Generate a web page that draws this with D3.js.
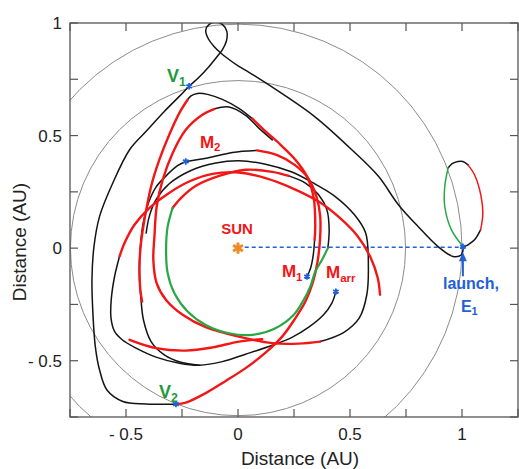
<!DOCTYPE html>
<html>
<head>
<meta charset="utf-8">
<script src="https://cdn.jsdelivr.net/npm/d3@7"></script>
<style>
  body { margin: 0; background: #fff; }
  svg { display: block; font-family: "Liberation Sans", Arial, sans-serif; }
</style>
</head>
<body>
<div id="chart"></div>
<script>
// axis ticks (AU)
const xLabels = [-0.5, 0, 0.5, 1];
const yLabels = [-0.5, 0, 0.5, 1];
const minorTicksX = [-0.75, -0.5, -0.25, 0, 0.25, 0.5, 0.75, 1, 1.25];
const minorTicksY = [-0.75, -0.5, -0.25, 0, 0.25, 0.5, 0.75, 1];
const orbitRadii = [1.0, 0.748];

// trajectory pieces, [x, y] in AU
const earthGreen = [[1.002,0.010],[0.953,0.081],[0.923,0.185],[0.923,0.274],[0.938,0.356]];
const earthTop = [[0.938,0.356],[0.956,0.375],[0.982,0.385],[1.004,0.385],[1.027,0.370]];
const earthRed = [[1.027,0.370],[1.056,0.326],[1.079,0.259],[1.093,0.156],[1.083,0.081]];
const outerBlack = [[1.083,0.081],[1.056,0.037],[1.027,0.015],[1.009,0.004],[0.997,-0.030],[0.960,-0.037],
  [0.893,0.007],[0.804,0.096],[0.716,0.193],[0.627,0.319],[0.508,0.437],[0.345,0.582],[0.197,0.686],
  [0.049,0.781],[0.004,0.807],[-0.055,0.849],[-0.077,0.867],[-0.107,0.896],[-0.132,0.929],[-0.144,0.967],
  [-0.129,0.994],[-0.099,1.003],[-0.070,0.994],[-0.050,0.963],[-0.052,0.919],[-0.070,0.881],[-0.092,0.852],
  [-0.129,0.807],[-0.173,0.760],[-0.218,0.719],[-0.262,0.674],[-0.329,0.607],[-0.410,0.519],[-0.484,0.437],
  [-0.559,0.289],[-0.618,0.141],[-0.643,0.007],[-0.652,-0.141],[-0.647,-0.304],[-0.637,-0.437],
  [-0.618,-0.541],[-0.585,-0.630],[-0.514,-0.681],[-0.410,-0.692],[-0.277,-0.693]];
const v2Red = [[-0.277,-0.693],[-0.233,-0.686],[-0.144,-0.644],[-0.055,-0.590],[0.034,-0.533],[0.123,-0.464],
  [0.197,-0.393],[0.256,-0.311],[0.301,-0.237],[0.333,-0.156],[0.354,-0.067],[0.366,0.037],[0.367,0.141],
  [0.350,0.230],[0.313,0.311],[0.253,0.370],[0.175,0.413],[0.086,0.434]];
const m2Line = [[0.086,0.434],[-0.025,0.425],[-0.136,0.400],[-0.233,0.385]];
const m2Down = [[-0.233,0.385],[-0.270,0.366],[-0.321,0.321],[-0.366,0.271],[-0.400,0.200],[-0.422,0.119],
  [-0.436,0.007],[-0.440,-0.111],[-0.434,-0.215],[-0.422,-0.319],[-0.388,-0.415],[-0.329,-0.474],
  [-0.255,-0.507],[-0.173,-0.520]];
const t1Top = [[-0.225,0.659],[-0.210,0.676],[-0.181,0.687],[-0.136,0.683],[-0.070,0.661],[0.004,0.621],[0.064,0.575]];
const t1Right = [[0.064,0.575],[0.123,0.519],[0.190,0.459],[0.256,0.393],[0.308,0.319],[0.338,0.222],[0.345,0.096],[0.342,0.037]];
const m1Stub = [[0.342,0.037],[0.336,-0.030],[0.324,-0.089],[0.308,-0.126]];
const t1Left = [[-0.225,0.659],[-0.262,0.600],[-0.307,0.504],[-0.351,0.393],[-0.388,0.274],[-0.415,0.141],
  [-0.433,0.022],[-0.440,-0.081],[-0.436,-0.185],[-0.428,-0.237]];
const greenArc = [[0.401,0.000],[0.375,-0.052],[0.345,-0.104],[0.323,-0.170],[0.293,-0.230],[0.249,-0.296],
  [0.167,-0.356],[0.064,-0.385],[-0.040,-0.378],[-0.144,-0.341],[-0.225,-0.281],[-0.284,-0.200],
  [-0.314,-0.111],[-0.321,-0.007],[-0.314,0.096],[-0.292,0.178]];
const rightBlack = [[0.401,0.000],[0.407,0.081],[0.397,0.170],[0.360,0.237],[0.301,0.289],[0.227,0.321]];
const feedRed = [[0.227,0.321],[0.153,0.339],[0.034,0.348],[-0.084,0.321],[-0.188,0.277],[-0.255,0.222],[-0.292,0.178]];
const bigRed = [[0.634,-0.207],[0.624,-0.133],[0.590,-0.037],[0.535,0.052],[0.456,0.133],[0.360,0.207],
  [0.241,0.267],[0.123,0.311],[0.004,0.336],[-0.114,0.330],[-0.218,0.296],[-0.314,0.241],[-0.396,0.178],
  [-0.462,0.104],[-0.507,0.022],[-0.529,-0.037]];
const finalBlack = [[-0.529,-0.037],[-0.551,-0.126],[-0.566,-0.230],[-0.567,-0.311],[-0.551,-0.370],
  [-0.517,-0.407],[-0.455,-0.444],[-0.366,-0.484],[-0.262,-0.511],[-0.173,-0.520],[-0.070,-0.504],
  [0.034,-0.471],[0.153,-0.431],[0.241,-0.396],[0.316,-0.351],[0.382,-0.296],[0.419,-0.244],[0.437,-0.193]];
const bottomRed = [[-0.484,-0.407],[-0.366,-0.444],[-0.233,-0.455],[-0.114,-0.441],[0.004,-0.415],[0.108,-0.404]];
const humpTop = [[0.153,0.481],[0.093,0.533],[0.034,0.590],[-0.040,0.627],[-0.107,0.618]];
const humpRed = [[-0.107,0.618],[-0.159,0.593],[-0.233,0.526],[-0.292,0.422],[-0.336,0.304],[-0.363,0.185],
  [-0.373,0.052],[-0.378,-0.052],[-0.363,-0.156],[-0.321,-0.230],[-0.247,-0.296],[-0.144,-0.351],
  [0.004,-0.393],[0.153,-0.422],[0.271,-0.424],[0.367,-0.415]];
const ringBlack = [[0.367,-0.415],[0.471,-0.375],[0.541,-0.311],[0.575,-0.207],[0.582,-0.081],[0.570,0.067],
  [0.520,0.148],[0.437,0.227],[0.345,0.284],[0.241,0.338],[0.123,0.373],[0.004,0.388],[-0.099,0.378],
  [-0.210,0.345],[-0.307,0.286],[-0.366,0.215],[-0.396,0.141],[-0.410,0.067]];

// flyby marks
const flybys = [
  { name: 'V1', at: [-0.218, 0.719] },
  { name: 'V2', at: [-0.277, -0.693] },
  { name: 'M2', at: [-0.233, 0.385] },
  { name: 'M1', at: [0.308, -0.126] },
  { name: 'Marr', at: [0.437, -0.193] },
  { name: 'E1', at: [1.004, 0.006] },
];
const sunAt = [0, 0];

const RED = '#f21616', GREEN = '#27a845', BLACK = '#141414', BLUE = '#2160d8';

const width = 519, height = 469;
const margin = { top: 23, right: 1, bottom: 52, left: 70 };

const x = d3.scaleLinear().domain([-0.75, 1.25]).range([margin.left, width - margin.right]);
const y = d3.scaleLinear().domain([-0.75, 1]).range([height - margin.bottom, margin.top]);

const svg = d3.select('#chart').append('svg')
  .attr('width', width)
  .attr('height', height);

const plot = svg.append('g');
plot.append('clipPath').attr('id', 'clip')
  .append('rect')
  .attr('x', x(-0.75)).attr('y', y(1))
  .attr('width', x(1.25) - x(-0.75)).attr('height', y(-0.75) - y(1));

const inner = plot.append('g').attr('clip-path', 'url(#clip)');

// reference orbits
inner.selectAll('circle.orbit')
  .data(orbitRadii)
  .enter()
  .append('circle')
    .attr('class', 'orbit')
    .attr('cx', x(0))
    .attr('cy', y(0))
    .attr('r', r => x(r) - x(0))
    .attr('fill', 'none')
    .attr('stroke', '#8c8c8c')
    .attr('stroke-width', 1);

// sun - earth line
inner.append('line')
  .attr('x1', x(0.03)).attr('x2', x(0.995))
  .attr('y1', y(0.004)).attr('y2', y(0.004))
  .attr('stroke', BLUE)
  .attr('stroke-width', 1.6)
  .attr('stroke-dasharray', '4,3');

const path = d3.line()
  .curve(d3.curveCatmullRom.alpha(0.5))
  .x(d => x(d[0]))
  .y(d => y(d[1]));

const pieces = [
  { pts: outerBlack, color: BLACK, w: 1.5 },
  { pts: earthTop, color: BLACK, w: 1.5 },
  { pts: m2Line, color: BLACK, w: 1.5 },
  { pts: m2Down, color: BLACK, w: 1.5 },
  { pts: t1Top, color: BLACK, w: 1.5 },
  { pts: m1Stub, color: BLACK, w: 1.5 },
  { pts: rightBlack, color: BLACK, w: 1.5 },
  { pts: finalBlack, color: BLACK, w: 1.5 },
  { pts: humpTop, color: BLACK, w: 1.5 },
  { pts: ringBlack, color: BLACK, w: 1.5 },
  { pts: earthRed, color: RED, w: 1.5 },
  { pts: v2Red, color: RED, w: 2.4 },
  { pts: t1Right, color: RED, w: 2.4 },
  { pts: t1Left, color: RED, w: 2.4 },
  { pts: feedRed, color: RED, w: 2.4 },
  { pts: bigRed, color: RED, w: 2.4 },
  { pts: bottomRed, color: RED, w: 2.4 },
  { pts: humpRed, color: RED, w: 2.4 },
  { pts: earthGreen, color: GREEN, w: 1.5 },
  { pts: greenArc, color: GREEN, w: 2.2 },
];

inner.selectAll('path.leg')
  .data(pieces)
  .enter()
  .append('path')
    .attr('class', 'leg')
    .attr('d', d => path(d.pts))
    .attr('fill', 'none')
    .attr('stroke', d => d.color)
    .attr('stroke-width', d => d.w)
    .attr('stroke-linecap', 'round');

// markers
const star = d3.symbol().type(d3.symbolAsterisk);
inner.selectAll('path.fly')
  .data(flybys)
  .enter()
  .append('path')
    .attr('class', 'fly')
    .attr('transform', d => `translate(${x(d.at[0])},${y(d.at[1])})`)
    .attr('d', star.size(28)())
    .attr('stroke', BLUE)
    .attr('stroke-width', 1.8)
    .attr('fill', 'none');

inner.append('path')
  .attr('transform', `translate(${x(sunAt[0])},${y(sunAt[1])})`)
  .attr('d', star.size(90)())
  .attr('stroke', '#f08a24')
  .attr('stroke-width', 3)
  .attr('fill', 'none');

// launch arrow
const arrowX = x(1.004);
inner.append('line')
  .attr('x1', arrowX).attr('x2', arrowX)
  .attr('y1', y(-0.125)).attr('y2', y(-0.035))
  .attr('stroke', BLUE).attr('stroke-width', 2);
inner.append('path')
  .attr('d', `M${arrowX},${y(-0.018)} l-4,9 l8,0 z`)
  .attr('fill', BLUE);

// frame and ticks
plot.append('rect')
  .attr('x', x(-0.75)).attr('y', y(1))
  .attr('width', x(1.25) - x(-0.75)).attr('height', y(-0.75) - y(1))
  .attr('fill', 'none')
  .attr('stroke', '#555')
  .attr('stroke-width', 1.3);

const TICK = 8;
const ticks = plot.append('g').attr('stroke', '#555').attr('stroke-width', 1.2);
minorTicksX.forEach(t => {
  ticks.append('line').attr('x1', x(t)).attr('x2', x(t)).attr('y1', y(-0.75)).attr('y2', y(-0.75) - TICK);
  ticks.append('line').attr('x1', x(t)).attr('x2', x(t)).attr('y1', y(1)).attr('y2', y(1) + TICK);
});
minorTicksY.forEach(t => {
  ticks.append('line').attr('x1', x(-0.75)).attr('x2', x(-0.75) + TICK).attr('y1', y(t)).attr('y2', y(t));
  ticks.append('line').attr('x1', x(1.25)).attr('x2', x(1.25) - TICK).attr('y1', y(t)).attr('y2', y(t));
});

const fmt = v => v < 0 ? '- ' + Math.abs(v) : String(v);
const labels = svg.append('g').attr('fill', '#222').attr('font-size', 17);
xLabels.forEach(t => {
  labels.append('text')
    .attr('x', x(t)).attr('y', y(-0.75) + 23)
    .attr('text-anchor', 'middle')
    .text(fmt(t));
});
yLabels.forEach(t => {
  labels.append('text')
    .attr('x', x(-0.75) - 8).attr('y', y(t) + 6)
    .attr('text-anchor', 'end')
    .text(fmt(t));
});

svg.append('text')
  .attr('x', 300).attr('y', 465)
  .attr('text-anchor', 'middle')
  .attr('font-size', 19)
  .attr('fill', '#222')
  .text('Distance (AU)');
svg.append('text')
  .attr('transform', `translate(26,242) rotate(-90)`)
  .attr('text-anchor', 'middle')
  .attr('font-size', 19)
  .attr('fill', '#222')
  .text('Distance (AU)');

// annotations
const note = svg.append('g').attr('font-weight', 'bold');
function tag(label, sub, ax, ay, color, size) {
  const t = note.append('text')
    .attr('x', x(ax)).attr('y', y(ay))
    .attr('fill', color)
    .attr('font-size', size);
  t.append('tspan').text(label);
  if (sub) {
    t.append('tspan')
      .attr('font-size', size * 0.68)
      .attr('dy', size * 0.22)
      .text(sub);
  }
}
tag('SUN', null, -0.075, 0.064, RED, 15);
tag('V', '1', -0.317, 0.737, '#1e9a3c', 18);
tag('V', '2', -0.353, -0.664, '#1e9a3c', 18);
tag('M', '2', -0.17, 0.446, RED, 17);
tag('M', '1', 0.196, -0.128, RED, 17);
tag('M', 'arr', 0.393, -0.133, RED, 17);

note.append('text')
  .attr('x', x(1.04)).attr('y', y(-0.18))
  .attr('text-anchor', 'middle')
  .attr('fill', BLUE)
  .attr('font-size', 16)
  .text('launch,');
tag('E', '1', 0.995, -0.282, BLUE, 16);
</script>
</body>
</html>
